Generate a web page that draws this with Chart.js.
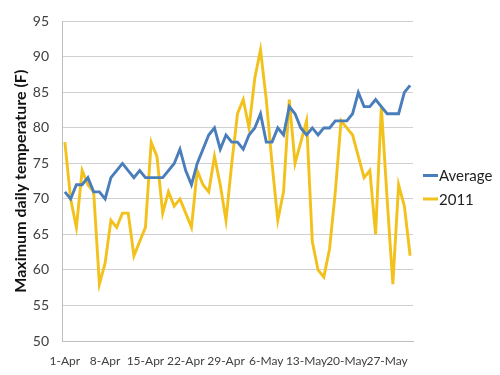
<!DOCTYPE html>
<html>
<head>
<meta charset="utf-8">
<script src="https://cdn.jsdelivr.net/npm/chart.js@4"></script>
<style>
  html, body { margin: 0; padding: 0; background: #ffffff; }
  #wrap { width: 500px; height: 375px; position: relative; }
</style>
</head>
<body>
<div id="wrap"><canvas id="c" width="500" height="375"></canvas></div>
<script>
const categories = [
  "1-Apr","2-Apr","3-Apr","4-Apr","5-Apr","6-Apr","7-Apr","8-Apr","9-Apr","10-Apr",
  "11-Apr","12-Apr","13-Apr","14-Apr","15-Apr","16-Apr","17-Apr","18-Apr","19-Apr","20-Apr",
  "21-Apr","22-Apr","23-Apr","24-Apr","25-Apr","26-Apr","27-Apr","28-Apr","29-Apr","30-Apr",
  "1-May","2-May","3-May","4-May","5-May","6-May","7-May","8-May","9-May","10-May",
  "11-May","12-May","13-May","14-May","15-May","16-May","17-May","18-May","19-May","20-May",
  "21-May","22-May","23-May","24-May","25-May","26-May","27-May","28-May","29-May","30-May",
  "31-May"
];
const averageValues = [
  71,70,72,72,73,71,71,70,73,74,75,74,73,74,73,73,
  73,73,74,75,77,74,72,75,77,79,80,77,79,78,78,77,
  79,80,82,78,78,80,79,83,82,80,79,80,79,80,80,
  81,81,81,82,85,83,83,84,83,82,82,82,85,86
];
const values2011 = [
  78,70,66,74,72,71,58,61,67,66,68,68,62,64,66,78,
  76,68,71,69,70,68,66,74,72,71,76,72,67,75,82,84,
  80,87,91,84,75,67,71,84,75,78,81,64,60,59,63,
  71,81,80,79,76,73,74,65,83,70,58,72,69,62
];
const seriesNames = ["Average", "2011"];
const yTickMin = 50, yTickMax = 95, yTickStep = 5;
const labelEvery = 7;
const yTitle = "Maximum daily temperature (F)";

const FONT = "Lato, 'Open Sans', sans-serif";

const legendPlugin = {
  id: 'sideLegend',
  afterDraw(chart) {
    const ctx = chart.ctx;
    const x0 = 423, lineLen = 15, ys = [175.5, 199];
    ctx.save();
    chart.data.datasets.forEach((ds, i) => {
      const y = ys[i];
      ctx.strokeStyle = ds.borderColor;
      ctx.lineWidth = 3;
      ctx.beginPath();
      ctx.moveTo(x0, y);
      ctx.lineTo(x0 + lineLen, y);
      ctx.stroke();
      ctx.fillStyle = '#222222';
      ctx.font = "15px " + FONT;
      ctx.textBaseline = 'middle';
      ctx.textAlign = 'left';
      ctx.fillText(ds.label, x0 + lineLen + 1, y + 1);
    });
    ctx.restore();
  }
};

new Chart(document.getElementById('c'), {
  type: 'line',
  data: {
    labels: categories,
    datasets: [
      { label: seriesNames[0], data: averageValues, borderColor: '#4A7EBB', backgroundColor: '#4A7EBB',
        borderWidth: 2.9, pointRadius: 0, tension: 0, fill: false },
      { label: seriesNames[1], data: values2011, borderColor: '#F3C11C', backgroundColor: '#F3C11C',
        borderWidth: 2.9, pointRadius: 0, tension: 0, fill: false }
    ]
  },
  options: {
    responsive: false,
    animation: false,
    devicePixelRatio: 1,
    layout: { padding: { top: 14, right: 87, bottom: 0, left: 0 } },
    plugins: { legend: { display: false }, tooltip: { enabled: false } },
    scales: {
      x: {
        type: 'category',
        offset: true,
        grid: { display: false, drawTicks: false },
        border: { display: true, color: '#bfbfbf', width: 1 },
        ticks: {
          autoSkip: false, maxRotation: 0, minRotation: 0, padding: 13,
          color: '#404040', font: { family: FONT, size: 12 },
          callback: function(val, idx) { return idx % labelEvery === 0 ? this.getLabelForValue(val) : ''; }
        },
        afterFit: (s) => { s.height = 34; }
      },
      y: {
        min: yTickMin, max: yTickMax,
        grid: { color: '#d0d0d0', lineWidth: 1, drawTicks: false },
        border: { display: true, color: '#bfbfbf', width: 1 },
        ticks: { stepSize: yTickStep, padding: 13, color: '#404040', font: { family: FONT, size: 14 } },
        title: { display: true, text: yTitle, color: '#111111', padding: { top: 11, bottom: 0 },
                 font: { family: FONT, size: 16, weight: 'bold' } },
        afterFit: (s) => { s.width = 62; }
      }
    }
  },
  plugins: [legendPlugin]
});
</script>
</body>
</html>
